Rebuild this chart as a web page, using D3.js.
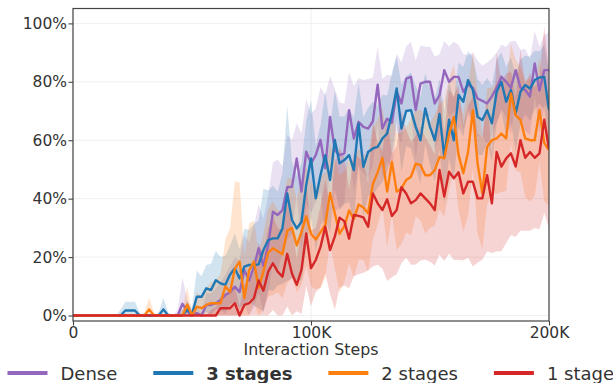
<!DOCTYPE html>
<html>
<head>
<meta charset="utf-8">
<script src="https://cdn.jsdelivr.net/npm/d3@7"></script>
<style>
  html, body { margin: 0; padding: 0; background: #fff; }
  svg { display: block; font-family: "DejaVu Sans", sans-serif; }
</style>
</head>
<body>
<svg id="chart" width="613" height="383"></svg>
<script>
// Evaluation checkpoints: every 2K interaction steps from 0 to 200K
const steps = d3.range(0, 200001, 2000);

// Success rate (%) per checkpoint, one array per reward setting
const dense = [
  0,0,0,0,0,0,0,0,0,0,
  0,0,0,0,0,0,0,0,0,0,
  0,0,0,4,1.5,0,0.8,0,3.6,3.6,
  4.2,5.3,7,8,9.9,8,15.6,12,16.7,23,
  17,24,35.5,34.4,36.1,43.9,44.1,53.8,42.4,56.1,
  52.1,54.9,60.1,50.4,68,56.6,54.9,55.5,70.3,60.6,
  66.3,64.6,64,66.5,79,64,67.4,66,76.6,72.6,
  81.1,81.7,70.3,79.4,80,80,72.6,75.4,84,80,
  81.7,81.7,76.6,79,78,74.3,73.5,72.6,75,78,
  81.7,80,78,84,78,77.2,75,86.3,77,84,
  84
];
const threeStages = [
  0,0,0,0,0,0,0,0,0,0,
  0,1.7,1.7,1.7,0,0,0,0,0,2.1,
  0,0,0,0,2,0.5,6.4,6.4,9.3,8.7,
  12.1,11,10.5,14,16.2,12.7,16.7,17.3,17.3,17.5,
  22.4,25.8,26.4,26.4,29.8,41.8,32.7,29.8,32.1,44.7,
  53.8,40.1,48.1,54.9,46.4,60.1,52.1,53.2,54.9,49.8,
  65.7,50.9,56,57.2,57.7,60.6,62.3,69.2,77.7,64,
  70,70.3,64.6,60,70.9,64.6,60,69,54.3,67,
  60,75.5,73.2,80.6,77.2,68,66.9,70.3,65.8,76.6,
  80,73.2,77.2,69.2,76.6,78.9,77.7,80.6,81.5,81.7,
  70.3
];
const twoStages = [
  0,0,0,0,0,0,0,0,0,0,
  0,0,0,0,0,0,2.1,0,0,0,
  0,0,0,0,3.8,0,3,2.5,3.6,4.2,
  4.2,4.2,10,8,16,18.5,6,15.5,18.5,9.5,
  15,21.5,23,22,21,29,30,24,28.5,34,
  28,26,28.5,31,42,35,28,30.5,36,33,
  38,37,35,45,49,54,42.4,52.6,42.4,43.5,
  46.4,47.5,52,51.5,48,48,49.8,54.3,53.8,62,
  68,55,48.7,56,70.3,52,41.8,57.8,60,60.6,
  62.3,60.6,76,68.6,67,60.6,60,60,70.3,59,
  56.6
];
const oneStage = [
  0,0,0,0,0,0,0,0,0,0,
  0,0,0,0,0,0,0,0,0,0,
  0,0,0,0,0,0,0,0,0,0,
  0,2.5,2.5,2.5,4.2,0,3.6,4.2,5.9,12,
  8.5,15,17.9,15,13.3,21.1,14.4,10.5,15.6,28.1,
  16.2,19,23.5,30.4,22.4,27,33.5,32.3,26.3,34.4,
  34.1,33.6,30.4,41.8,38.4,36.1,39.8,34.1,36.1,43.9,
  41.8,38.4,39.5,41.8,40.1,38.4,36.1,49.8,40.7,49.2,
  47,49,41.8,45.8,45.8,40.1,40.1,48,38.4,56,
  51,53.8,55.5,51,60,54,56,54,55.5,67,
  57
];

// Standard deviation (%) across seeds, same checkpoints
const denseStd = [
  0,0,0,0,0,0,0,0,0,0,
  0,0,0,0,0,0,0,0,0,0,
  0,0,2,9,4,1,2,1,4,4,
  5,6,7,9,10,11,12,13,14,15,
  16,17,17,19,15,18,16,12,20,18,
  17,16,18,25,14,21,18,17,13,18,
  15,16,17,15,13,17,15,16,13,14,
  11,12,17,13,12,12,16,14,10,12,
  12,11,13,10,12,13,12,14,13,12,
  11,12,16,10,13,14,13,11,15,12,
  13
];
const threeStagesStd = [
  0,0,0,0,0,0,0,0,0,0,
  2,3,3,3,1,0,0,0,1,4,
  1,0,0,2,3,2,9,7,8,9,
  10,9,10,10,12,10,13,12,14,15,
  21,17,18,16,19,30,20,18,20,22,
  20,18,17,22,18,17,16,15,16,18,
  14,17,15,16,14,15,13,14,11,15,
  12,13,14,15,12,13,14,12,16,13,
  14,11,12,10,11,13,12,11,13,11,
  10,12,11,13,11,10,11,10,9,11,
  13
];
const twoStagesStd = [
  0,0,0,0,0,0,0,0,0,0,
  0,0,0,0,0,1,4,1,0,0,
  0,0,0,2,6,1,5,4,6,7,
  8,10,16,22,30,27,14,16,14,12,
  13,15,16,14,15,18,17,16,18,17,
  18,17,19,18,17,19,20,19,18,20,
  19,18,20,19,18,17,19,18,20,19,
  18,20,18,19,20,18,19,18,20,19,
  18,19,20,22,20,24,19,20,18,19,
  20,18,17,19,18,20,21,19,18,20,
  19
];
const oneStageStd = [
  0,0,0,0,0,0,0,0,0,0,
  0,0,0,0,0,0,0,0,0,0,
  0,0,0,0,0,0,0,0,0,2,
  3,4,5,5,6,3,7,8,10,13,
  12,15,16,15,16,18,16,9,15,18,
  13,11,14,16,15,25,24,22,17,21,
  20,19,15,25,21,20,28,21,22,26,
  22,21,22,23,21,20,19,29,22,28,
  28,30,23,26,29,22,21,26,17,34,
  29,29,28,24,31,25,27,24,26,32,
  27
];

const seriesNames = ["Dense", "3 stages", "2 stages", "1 stage"];
const seriesColors = ["#9467bd", "#1f77b4", "#ff7f0e", "#d62728"];
const yTicks = [0, 20, 40, 60, 80, 100];
const xTicks = [0, 100000, 200000];
const xTickLabels = ["0", "100K", "200K"];
const xTitle = "Interaction Steps";

const series = [
  { name: seriesNames[0], color: seriesColors[0], values: dense, std: denseStd, bold: false },
  { name: seriesNames[1], color: seriesColors[1], values: threeStages, std: threeStagesStd, bold: true },
  { name: seriesNames[2], color: seriesColors[2], values: twoStages, std: twoStagesStd, bold: false },
  { name: seriesNames[3], color: seriesColors[3], values: oneStage, std: oneStageStd, bold: false }
];

const svg = d3.select("#chart");
const plot = { left: 73, right: 549, top: 8.5, bottom: 321 };

const x = d3.scaleLinear().domain([0, 200000]).range([plot.left, plot.right]);
const y = d3.scaleLinear().domain([-1.88, 105.1]).range([plot.bottom, plot.top]);

svg.append("defs").append("clipPath").attr("id", "plot-clip")
  .append("rect")
  .attr("x", plot.left).attr("y", plot.top)
  .attr("width", plot.right - plot.left).attr("height", plot.bottom - plot.top);

// light grid
const grid = svg.append("g");
grid.selectAll("line.h").data(yTicks).join("line")
  .attr("x1", plot.left).attr("x2", plot.right)
  .attr("y1", d => y(d)).attr("y2", d => y(d))
  .attr("stroke", "#f0f0f0").attr("stroke-width", 1);
grid.selectAll("line.v").data(xTicks).join("line")
  .attr("y1", plot.top).attr("y2", plot.bottom)
  .attr("x1", d => x(d)).attr("x2", d => x(d))
  .attr("stroke", "#f0f0f0").attr("stroke-width", 1);

const clipped = svg.append("g").attr("clip-path", "url(#plot-clip)");

// shaded spread (mean ± std, kept inside 0–100%)
const area = d3.area()
  .x((d, i) => x(steps[i]))
  .y0(d => y(Math.max(0, d.v - d.s)))
  .y1(d => y(Math.min(100, d.v + d.s)));

series.forEach(s => {
  const pts = s.values.map((v, i) => ({ v, s: s.std[i] }));
  clipped.append("path")
    .datum(pts)
    .attr("d", area)
    .attr("fill", s.color)
    .attr("fill-opacity", 0.2)
    .attr("stroke", "none");
});

// mean curves
const line = d3.line()
  .x((d, i) => x(steps[i]))
  .y(d => y(d));

series.forEach(s => {
  clipped.append("path")
    .datum(s.values)
    .attr("d", line)
    .attr("fill", "none")
    .attr("stroke", s.color)
    .attr("stroke-width", 2.4)
    .attr("stroke-linejoin", "round");
});

// axes
const yAxis = d3.axisLeft(y)
  .tickValues(yTicks)
  .tickFormat(d => d + "%")
  .tickSize(4.5)
  .tickPadding(1.5);
const gy = svg.append("g").attr("transform", `translate(${plot.left},0)`).call(yAxis);

const xAxis = d3.axisBottom(x)
  .tickValues(xTicks)
  .tickFormat((d, i) => xTickLabels[i])
  .tickSize(4.5)
  .tickPadding(1);
const gx = svg.append("g").attr("transform", `translate(0,${plot.bottom})`).call(xAxis);

[gx, gy].forEach(g => {
  g.select(".domain").remove();
  g.selectAll(".tick line").attr("stroke", "#444").attr("stroke-width", 1.1);
  g.selectAll(".tick text")
    .attr("fill", "#333")
    .style("font-family", "'DejaVu Sans', sans-serif")
    .style("font-size", "15.5px");
});

// frame
svg.append("rect")
  .attr("x", plot.left).attr("y", plot.top)
  .attr("width", plot.right - plot.left).attr("height", plot.bottom - plot.top)
  .attr("fill", "none").attr("stroke", "#444").attr("stroke-width", 1.2);

// axis title
svg.append("text")
  .attr("x", (plot.left + plot.right) / 2)
  .attr("y", 355)
  .attr("text-anchor", "middle")
  .attr("fill", "#333")
  .style("font-size", "15.8px")
  .text(xTitle);

// legend row
const legend = svg.append("g");
let cursor = 7.5;
series.forEach(s => {
  legend.append("line")
    .attr("x1", cursor).attr("x2", cursor + 40)
    .attr("y1", 373).attr("y2", 373)
    .attr("stroke", s.color).attr("stroke-width", 4);
  const t = legend.append("text")
    .attr("x", cursor + 53)
    .attr("y", 379.5)
    .attr("fill", "#333")
    .style("font-size", "18px")
    .style("font-weight", s.bold ? "bold" : "normal")
    .text(s.name);
  cursor += 53 + t.node().getComputedTextLength() + 36;
});
</script>
</body>
</html>
